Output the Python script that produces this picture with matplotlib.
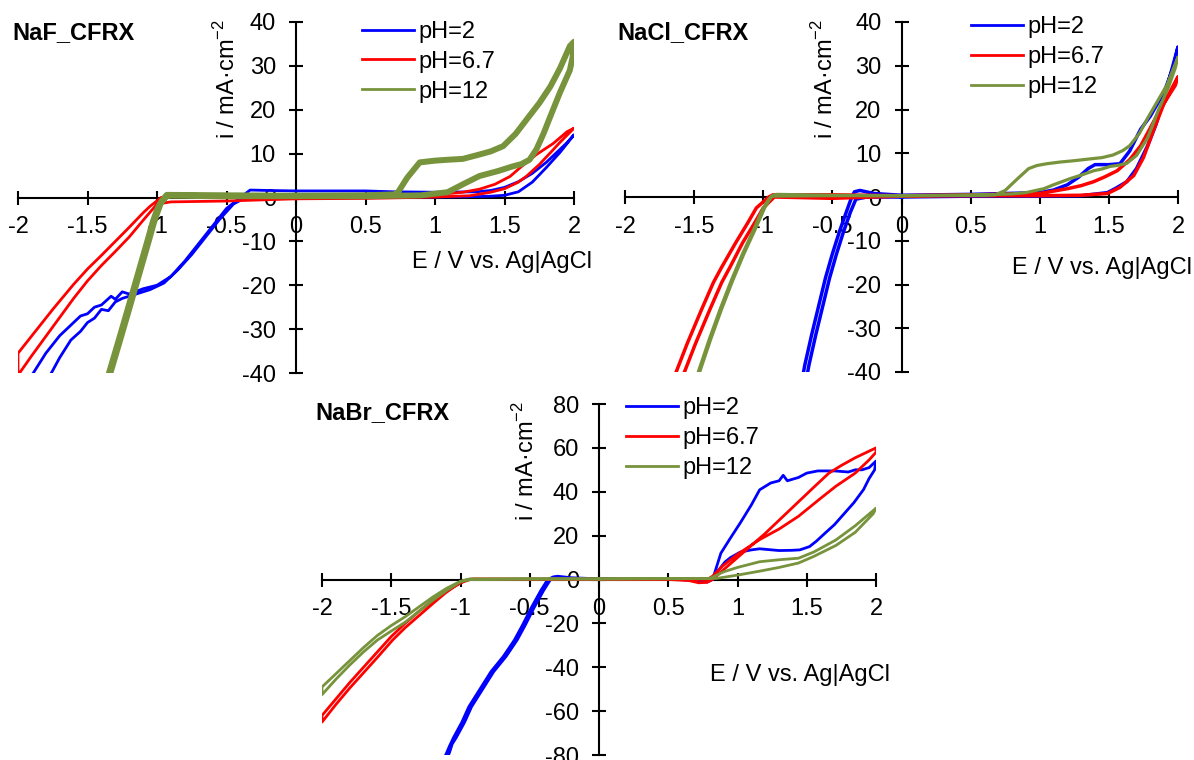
import matplotlib
matplotlib.use('Agg')
import matplotlib.pyplot as plt
from matplotlib.lines import Line2D
from matplotlib.ticker import FuncFormatter

plt.rcParams['font.family'] = ['Liberation Sans', 'DejaVu Sans']
plt.rcParams['axes.unicode_minus'] = False

labels = ['pH=2', 'pH=6.7', 'pH=12']
colors = ['#0000FF', '#FF0000', '#77933C']
e_ticks = [-2, -1.5, -1, -0.5, 0, 0.5, 1, 1.5, 2]

# ---- NaF_CFRX ----
naf_ph2_E = [0, 0.5, 1.0, 1.3, 1.4, 1.5, 1.6, 1.7, 1.8, 1.9, 2.0,
             1.95, 1.9, 1.8, 1.7, 1.6, 1.5, 1.4, 1.3, 1.0, 0.7, 0.5, 0, -0.2, -0.33,
             -0.38, -0.42, -0.5, -0.6, -0.7, -0.8, -0.9, -1.0, -1.1, -1.2, -1.25, -1.3, -1.33,
             -1.4, -1.45, -1.5, -1.55, -1.6, -1.7, -1.8, -1.9, -2.0,
             -2.0, -1.76, -1.7, -1.62, -1.55, -1.5, -1.45, -1.4, -1.35, -1.3, -1.25, -1.15,
             -1.05, -0.95, -0.85, -0.75, -0.65, -0.55, -0.45, -0.38, -0.2, 0]
naf_ph2_i = [0.1, 0.1, 0.1, 0.2, 0.3, 0.5, 1.3, 3.5, 6.8, 10.3, 14.3,
             12.5, 11.0, 8.0, 5.5, 3.6, 2.3, 1.6, 1.3, 1.2, 1.3, 1.5, 1.5, 1.6, 1.7,
             0.5, -0.5, -2.5, -6.5, -10.5, -14.5, -18.0, -20.0, -20.8, -22.0, -21.5, -23.2, -22.5,
             -24.5, -25.0, -26.5, -27.0, -28.5, -31.5, -35.5, -40.5, -46,
             -52, -40, -36.5, -32.5, -30.5, -28.5, -27.5, -25.5, -25.8, -23.8, -23.0, -22.0,
             -21.0, -19.5, -16.5, -13.0, -9.0, -5.0, -1.5, -0.3, 0, 0.1]

naf_ph67_E = [0, 0.5, 1.0, 1.25, 1.4, 1.5, 1.6, 1.66, 1.75, 1.83, 1.9, 2.0,
              1.95, 1.85, 1.73, 1.62, 1.54, 1.43, 1.32, 1.2, 1.0, 0.5, 0, -0.5, -0.9, -0.97,
              -1.05, -1.1, -1.2, -1.3, -1.4, -1.5, -1.6, -1.75, -1.9, -2.0,
              -2.0, -1.9, -1.75, -1.6, -1.5, -1.4, -1.3, -1.2, -1.1, -1.0, -0.9, -0.5, 0]
naf_ph67_i = [-0.3, -0.2, 0.1, 0.4, 1.2, 2.0, 3.5, 4.9, 7.5, 10.2, 12.6, 15.8,
              15.0, 12.3, 9.8, 7.0, 4.8, 3.0, 1.9, 1.2, 0.6, 0.3, 0.2, 0.3, 0.5, 0,
              -2.0, -3.5, -6.8, -10.0, -13.2, -16.3, -19.8, -25.5, -31.5, -35.5,
              -40.5, -36.0, -29.5, -23.0, -19.0, -15.5, -12.3, -9.0, -5.2, -1.5, -1.0, -0.8, -0.3]

naf_ph12_E = [0, 0.5, 0.7, 0.73, 0.8, 0.89, 1.0, 1.09, 1.2, 1.32, 1.4, 1.49, 1.58, 1.66,
              1.75, 1.83, 1.9, 1.97, 2.0,
              1.99, 1.97, 1.9, 1.83, 1.78, 1.73, 1.68, 1.62, 1.56, 1.45, 1.32, 1.2, 1.09, 0.9,
              0.5, 0,
              -0.5, -0.9, -0.93, -0.96, -0.98, -1.0, -1.03, -1.07, -1.12, -1.17, -1.22, -1.28,
              -1.35, -1.4,
              -1.39, -1.34, -1.27, -1.21, -1.16, -1.11, -1.06, -1.02, -0.99, -0.97, -0.93,
              -0.5, 0]
naf_ph12_i = [0.4, 0.5, 0.7, 1.0, 4.5, 8.0, 8.4, 8.6, 8.8, 9.8, 10.5, 11.7, 14.5, 17.8,
              21.5, 25.3, 29.5, 34.5, 35.5,
              32, 29, 24, 18.5, 14.5, 11.0, 8.6, 7.6, 7.1, 6.0, 4.9, 3.0, 1.2, 0.5,
              0.3, 0.3,
              0.3, 0.4, 0.3, -0.8, -1.5, -2.8, -5.5, -10, -15.5, -21, -26.5, -33,
              -40.5, -46,
              -46, -40.5, -33, -26.5, -21, -15.5, -10, -5.5, -2.8, -1.0, 0.6,
              0.5, 0.4]

# ---- NaCl_CFRX ----
nacl_ph2_E = [0, 0.5, 1.0, 1.3, 1.49, 1.55, 1.63, 1.7, 1.78, 1.84, 1.89, 1.95, 2.0,
              1.97, 1.9, 1.8, 1.73, 1.65, 1.58, 1.5, 1.4, 1.35, 1.28, 1.2, 1.1, 1.0, 0.5, 0,
              -0.2, -0.3, -0.34, -0.36, -0.40, -0.45, -0.5, -0.55, -0.6, -0.65, -0.7, -0.72,
              -0.69, -0.67, -0.62, -0.57, -0.52, -0.47, -0.42, -0.37, -0.33, -0.25, 0]
nacl_ph2_i = [0, 0.2, 0.2, 0.3, 1.0, 2.0, 3.5, 6.5, 11.7, 16.5, 21.8, 28.5, 34.3,
              30, 24, 18.5, 15.5, 10.5, 7.6, 7.4, 7.4, 6.5, 4.5, 2.8, 1.6, 1.0, 0.6, 0.4,
              0.8, 1.5, 1.2, 0, -3.5, -8, -13, -18.5, -25, -31.5, -38.5, -42,
              -42, -38.5, -31.5, -25, -18.5, -13, -8, -3.5, -0.5, 0, 0]

nacl_ph67_E = [0, 0.5, 1.0, 1.3, 1.49, 1.58, 1.68, 1.75, 1.82, 1.9, 2.0,
               1.98, 1.93, 1.87, 1.8, 1.73, 1.65, 1.56, 1.47, 1.39, 1.3, 1.2, 1.0, 0.5, 0,
               -0.5, -0.93, -0.96, -1.05, -1.11, -1.2, -1.3, -1.36, -1.45, -1.55, -1.63, -1.66,
               -1.6, -1.57, -1.49, -1.39, -1.3, -1.24, -1.15, -1.06, -1.0, -0.92, -0.5, 0]
nacl_ph67_i = [0.2, 0.3, 0.3, 0.4, 0.8, 2.2, 4.9, 9, 15, 21.5, 27.5,
               25.5, 23, 20, 15.8, 11.7, 8.5, 6.0, 4.6, 3.5, 2.6, 1.9, 0.8, 0.5, 0.3,
               0.5, 0.5, 0, -2.5, -5.8, -10.5, -16, -19.5, -26, -33.5, -40, -42,
               -42, -40, -33.5, -26, -19.5, -16, -10.5, -5.8, -2.5, 0, -0.3, 0.2]

nacl_ph12_E = [0, 0.5, 0.68, 0.75, 0.84, 0.92, 0.98, 1.05, 1.15, 1.25, 1.39, 1.45, 1.53, 1.6,
               1.65, 1.72, 1.78, 1.85, 1.92, 2.0,
               1.98, 1.93, 1.86, 1.78, 1.7, 1.63, 1.56, 1.51, 1.45, 1.39, 1.3, 1.22, 1.1, 1.03,
               0.9, 0.8, 0.5, 0, -0.5, -0.9,
               -0.92, -0.96, -1.0, -1.07, -1.15, -1.23, -1.31, -1.39, -1.47, -1.5,
               -1.49, -1.46, -1.38, -1.3, -1.22, -1.14, -1.06, -0.99, -0.94, -0.5, 0]
nacl_ph12_i = [0.3, 0.4, 0.5, 1.5, 4.2, 6.5, 7.2, 7.6, 8.0, 8.3, 8.8, 9.0, 9.6, 10.6,
               11.7, 14.5, 18, 21.8, 25.6, 32,
               29.5, 25, 20, 13.5, 9.5, 7.7, 7.2, 7.0, 6.4, 6.0, 5.0, 4.2, 2.8, 1.9,
               1.0, 0.7, 0.4, 0.3, 0.4, 0.6,
               0.5, -0.5, -2.5, -7.5, -13, -19, -25.5, -32.5, -40, -42.5,
               -42.5, -40, -32.5, -25.5, -19, -13, -7.5, -2.5, 0.2, 0.3, 0.3]

# ---- NaBr_CFRX ----
nabr_ph2_E = [0, 0.5, 0.7, 0.78, 0.82, 0.88, 0.95, 1.02, 1.1, 1.16, 1.24, 1.3, 1.33, 1.36,
              1.44, 1.5, 1.58, 1.7, 1.8, 1.85, 1.9, 1.95, 2.0,
              1.99, 1.95, 1.91, 1.84, 1.77, 1.7, 1.63, 1.57, 1.52, 1.45, 1.39, 1.3, 1.16, 1.1,
              1.02, 0.95, 0.91, 0.86, 0.82, 0.5, 0, -0.2, -0.3, -0.33,
              -0.37, -0.42, -0.49, -0.55, -0.61, -0.69, -0.78, -0.86, -0.94, -0.99, -1.05,
              -1.08, -1.1, -1.13,
              -1.11, -1.08, -1.06, -1.03, -0.97, -0.92, -0.84, -0.76, -0.67, -0.59, -0.53,
              -0.47, -0.40, -0.35, 0]
nabr_ph2_i = [0.5, 0.3, -0.5, -1.2, 0, 12, 19, 25.8, 34, 40.9, 44, 45, 47.5, 45,
              46.5, 48.5, 49.5, 49.5, 49.0, 50, 50, 51, 54,
              50, 46, 41, 35, 30, 25, 21, 17.5, 15, 13.5, 13.3, 13.2, 14, 13.5,
              12.5, 10, 8, 4, 0.5, 0.2, 0.3, 0.8, 1.5, 1.2,
              0, -5, -13, -20.5, -27.5, -35, -42, -50, -58, -65, -72,
              -76, -79, -83,
              -83, -79, -75, -72, -65, -58, -50, -42, -35, -27.5, -20.5,
              -13, -5, 0, 0.5]

nabr_ph67_E = [0, 0.5, 0.65, 0.72, 0.78, 0.82, 0.9, 1.0, 1.2, 1.4, 1.55, 1.66, 1.75, 1.85,
               1.95, 2.0,
               2.0, 1.95, 1.85, 1.71, 1.6, 1.44, 1.3, 1.16, 1.0, 0.89, 0.82, 0.78, 0.5, 0,
               -0.5, -0.9, -0.95, -1.0, -1.05, -1.11, -1.2, -1.3, -1.4, -1.49, -1.6, -1.7,
               -1.8, -1.9, -2.0,
               -2.0, -1.9, -1.8, -1.7, -1.6, -1.5, -1.4, -1.3, -1.2, -1.1, -1.0, -0.93, 0]
nabr_ph67_i = [0, 0, -0.5, -1.5, -1.3, 0, 4.5, 10, 21, 33, 42, 48.5, 52, 55.5,
               58.5, 60,
               58, 54.5, 48.5, 42.5, 37, 28.8, 23, 18.2, 11.5, 6, 1.5, 0, 0, 0.2,
               0.2, 0.3, 0, -1.5, -3.5, -6.2, -11, -16.5, -22, -27.6, -35.5, -42.5,
               -49.5, -57, -65,
               -62, -54.5, -47, -40, -33, -26, -20, -14.5, -9.5, -5, -1.5, 0, 0]

nabr_ph12_E = [0, 0.5, 0.8, 0.9, 1.0, 1.16, 1.3, 1.44, 1.55, 1.71, 1.85, 2.0,
               1.98, 1.85, 1.71, 1.55, 1.44, 1.3, 1.16, 1.0, 0.85, 0.5, 0, -0.5, -0.93,
               -1.0, -1.1, -1.2, -1.3, -1.4, -1.5, -1.6, -1.7, -1.8, -1.9, -2.0,
               -2.0, -1.9, -1.8, -1.7, -1.6, -1.5, -1.4, -1.3, -1.2, -1.1, -1.0, -0.93, 0]
nabr_ph12_i = [0.3, 0.4, 0.5, 3.5, 5.5, 8.1, 9.0, 9.7, 12.5, 18, 24.5, 32.5,
               30, 21.5, 15.5, 10.5, 7.5, 5.5, 3.8, 2.0, 0.5, 0.3, 0.2, 0.2, 0,
               -1, -5, -9.5, -14.5, -19.5, -23.5, -27.6, -33, -39, -45.5, -52.5,
               -49, -43, -37, -31, -25.5, -21, -17, -12.5, -8, -4, -0.8, 0.3, 0.3]

W, H = 1194, 760
FS = 17
fig = plt.figure(figsize=(W / 100, H / 100), dpi=100)


def make_axes(xl, xr, yt, yb):
    return fig.add_axes([xl / W, 1 - yb / H, (xr - xl) / W, (yb - yt) / H])


def style_axes(ax, ymax, ystep):
    ax.set_xlim(-2, 2)
    ax.set_ylim(-ymax, ymax)
    ax.patch.set_visible(False)
    for s in ['top', 'right']:
        ax.spines[s].set_visible(False)
    for s in ['left', 'bottom']:
        ax.spines[s].set_position(('data', 0))
        ax.spines[s].set_linewidth(1.5)
        ax.spines[s].set_zorder(1)
    ax.set_xticks(e_ticks)
    ax.set_yticks(range(-ymax, ymax + 1, ystep))
    ax.xaxis.set_major_formatter(FuncFormatter(lambda v, p: f'{v:g}'))
    ax.tick_params(direction='inout', length=10, width=1.5, labelsize=FS)
    ax.tick_params(axis='x', pad=8.5)
    ax.tick_params(axis='y', pad=9.5)


def draw_panel(ax, curves, widths, ymax, ystep, leg_xy, ylab_x, xlab_xy):
    style_axes(ax, ymax, ystep)
    for (E, cur), c, lw in zip(curves, colors, widths):
        ax.plot(E, cur, color=c, lw=lw, zorder=3, solid_joinstyle='round')
    handles = [Line2D([], [], color=c, lw=2.0) for c in colors]
    ax.legend(handles, labels, loc='upper left', bbox_to_anchor=leg_xy, frameon=False,
              fontsize=FS, handlelength=2.2, handletextpad=0.2, labelspacing=0.33,
              borderpad=0, borderaxespad=0)
    ax.text(ylab_x, 1.008, 'i / mA·cm$^{\\mathregular{-2}}$', rotation=90, fontsize=FS,
            ha='center', va='top', transform=ax.transAxes)
    ax.text(xlab_xy[0], xlab_xy[1], 'E / V vs. Ag|AgCl', fontsize=FS,
            ha='right', va='center', transform=ax.transAxes)


ax1 = make_axes(18, 574, 22, 373)
draw_panel(ax1, [(naf_ph2_E, naf_ph2_i), (naf_ph67_E, naf_ph67_i), (naf_ph12_E, naf_ph12_i)],
           [2.0, 2.0, 4.3], 40, 10, (0.619, 1.003), 0.376, (1.032, 0.316))

ax2 = make_axes(625, 1178, 22, 372)
draw_panel(ax2, [(nacl_ph2_E, nacl_ph2_i), (nacl_ph67_E, nacl_ph67_i), (nacl_ph12_E, nacl_ph12_i)],
           [2.5, 2.5, 2.3], 40, 10, (0.626, 1.016), 0.362, (1.025, 0.297))

ax3 = make_axes(322, 876, 404, 755)
draw_panel(ax3, [(nabr_ph2_E, nabr_ph2_i), (nabr_ph67_E, nabr_ph67_i), (nabr_ph12_E, nabr_ph12_i)],
           [2.0, 2.0, 2.0], 80, 20, (0.548, 1.019), 0.369, (1.025, 0.228))

fig.text(12 / W, 1 - 33 / H, 'NaF_CFRX', fontsize=FS, fontweight='bold', ha='left', va='center')
fig.text(617 / W, 1 - 33 / H, 'NaCl_CFRX', fontsize=FS, fontweight='bold', ha='left', va='center')
fig.text(315 / W, 1 - 413 / H, 'NaBr_CFRX', fontsize=FS, fontweight='bold', ha='left', va='center')

fig.savefig('out.png', dpi=100)
